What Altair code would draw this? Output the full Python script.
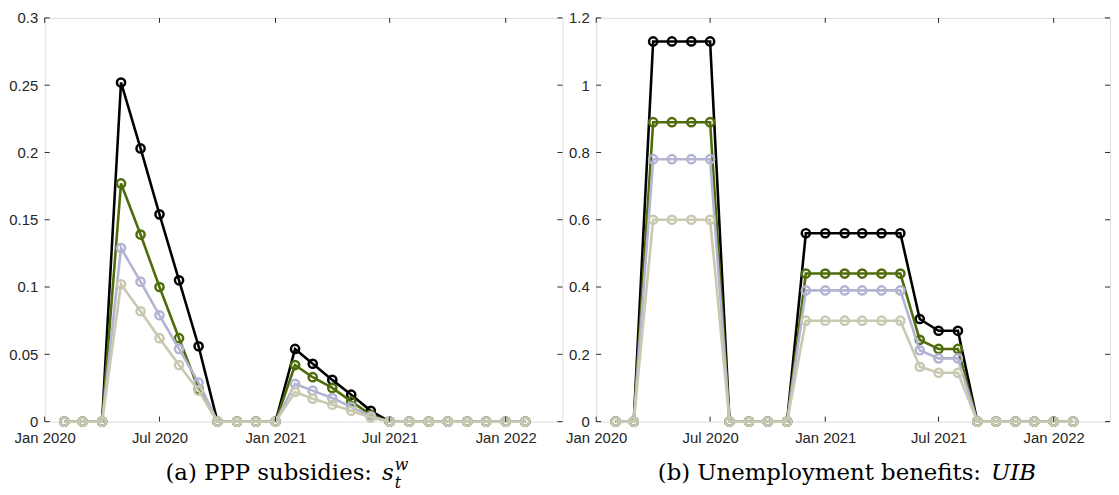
import altair as alt
import pandas as pd

# ---------------- data ----------------
months = [
    "2020-02-01", "2020-03-01", "2020-04-01", "2020-05-01", "2020-06-01",
    "2020-07-01", "2020-08-01", "2020-09-01", "2020-10-01", "2020-11-01",
    "2020-12-01", "2021-01-01", "2021-02-01", "2021-03-01", "2021-04-01",
    "2021-05-01", "2021-06-01", "2021-07-01", "2021-08-01", "2021-09-01",
    "2021-10-01", "2021-11-01", "2021-12-01", "2022-01-01", "2022-02-01",
]
series_names = ["black", "green", "lavender", "tan"]
series_colors = ["#000000", "#4f6c0a", "#b3b3d2", "#c9c9b1"]

ppp_black = [0, 0, 0, 0.252, 0.203, 0.154, 0.105, 0.056, 0, 0, 0, 0,
             0.054, 0.043, 0.031, 0.020, 0.008, 0, 0, 0, 0, 0, 0, 0, 0]
ppp_green = [0, 0, 0, 0.177, 0.139, 0.100, 0.062, 0.024, 0, 0, 0, 0,
             0.042, 0.033, 0.025, 0.015, 0.005, 0, 0, 0, 0, 0, 0, 0, 0]
ppp_lavender = [0, 0, 0, 0.129, 0.104, 0.079, 0.054, 0.029, 0, 0, 0, 0,
                0.028, 0.023, 0.0175, 0.011, 0.004, 0, 0, 0, 0, 0, 0, 0, 0]
ppp_tan = [0, 0, 0, 0.102, 0.082, 0.062, 0.042, 0.023, 0, 0, 0, 0,
           0.022, 0.017, 0.0125, 0.008, 0.003, 0, 0, 0, 0, 0, 0, 0, 0]

uib_black = [0, 0, 1.13, 1.13, 1.13, 1.13, 0, 0, 0, 0, 0.56, 0.56,
             0.56, 0.56, 0.56, 0.56, 0.305, 0.27, 0.27, 0, 0, 0, 0, 0, 0]
uib_green = [0, 0, 0.89, 0.89, 0.89, 0.89, 0, 0, 0, 0, 0.44, 0.44,
             0.44, 0.44, 0.44, 0.44, 0.243, 0.216, 0.216, 0, 0, 0, 0, 0, 0]
uib_lavender = [0, 0, 0.78, 0.78, 0.78, 0.78, 0, 0, 0, 0, 0.39, 0.39,
                0.39, 0.39, 0.39, 0.39, 0.212, 0.188, 0.188, 0, 0, 0, 0, 0, 0]
uib_tan = [0, 0, 0.60, 0.60, 0.60, 0.60, 0, 0, 0, 0, 0.30, 0.30,
           0.30, 0.30, 0.30, 0.30, 0.163, 0.145, 0.145, 0, 0, 0, 0, 0, 0]

x_tick_dates = ["2020-01-01", "2020-07-01", "2021-01-01", "2021-07-01", "2022-01-01"]
ppp_yticks = [0, 0.05, 0.1, 0.15, 0.2, 0.25, 0.3]
uib_yticks = [0, 0.2, 0.4, 0.6, 0.8, 1.0, 1.2]

# ---------------- styling ----------------
H = 407
W_LEFT = 522
W_RIGHT = 518
AXIS_COLOR = "#262626"
LABEL_FONT = "Liberation Sans"
CAPTION_FONT = "DejaVu Serif"
CAP_Y = 465.5          # caption baseline, relative to plot top
TICK_LEN = 5


def to_local(d):
    return d + "T00:00:00"


def long_df(values_by_series):
    rows = []
    for name, vals in zip(series_names, values_by_series):
        for m, v in zip(months, vals):
            rows.append({"date": to_local(m), "value": v, "series": name})
    return pd.DataFrame(rows)


def dt(y, m, d):
    return alt.DateTime(year=y, month=m, date=d, hours=0)


def make_panel(values_by_series, yticks, ymax, width, caption_layers):
    x_enc = alt.X(
        "date:T",
        scale=alt.Scale(domain=[dt(2020, 1, 1), dt(2022, 4, 1)]),
        axis=alt.Axis(
            values=[dt(int(s[:4]), int(s[5:7]), 1) for s in x_tick_dates],
            format="%b %Y", ticks=False, tickSize=0, domain=False, grid=False,
            labelPadding=9, labelFont=LABEL_FONT, labelFontSize=15,
            labelColor=AXIS_COLOR, labelFlush=False, labelOverlap=False,
            title=None,
        ),
    )
    y_enc = alt.Y(
        "value:Q",
        scale=alt.Scale(domain=[0, ymax], nice=False, zero=True),
        axis=alt.Axis(
            values=yticks, format="~g", ticks=False, tickSize=0, domain=False,
            grid=False, labelPadding=7, labelFont=LABEL_FONT, labelFontSize=15,
            labelColor=AXIS_COLOR, labelOverlap=False, title=None,
        ),
    )

    df = long_df(values_by_series)
    layers = []
    for name, color in zip(series_names, series_colors):
        base = alt.Chart(df).transform_filter(alt.datum.series == name)
        layers.append(base.mark_line(color=color, strokeWidth=2.6).encode(x=x_enc, y=y_enc))
        layers.append(
            base.mark_point(shape="circle", filled=False, size=68, color=color,
                            strokeWidth=2.5, opacity=1).encode(x=x_enc, y=y_enc)
        )

    # inward axis ticks on all four sides (MATLAB box style)
    xt = pd.DataFrame({"date": [to_local(d) for d in x_tick_dates]})
    yt = pd.DataFrame({"value": yticks})
    rule = dict(color=AXIS_COLOR, strokeWidth=1)
    layers.append(alt.Chart(xt).mark_rule(**rule).encode(x=x_enc, y=alt.value(0), y2=alt.value(TICK_LEN)))
    layers.append(alt.Chart(xt).mark_rule(**rule).encode(x=x_enc, y=alt.value(H), y2=alt.value(H - TICK_LEN)))
    layers.append(alt.Chart(yt).mark_rule(**rule).encode(y=y_enc, x=alt.value(0), x2=alt.value(TICK_LEN)))
    layers.append(alt.Chart(yt).mark_rule(**rule).encode(y=y_enc, x=alt.value(width - TICK_LEN), x2=alt.value(width)))

    layers.extend(caption_layers)
    return alt.layer(*layers).properties(width=width, height=H)


def caption_text(text, x, y, align, size=23, italic=False):
    return alt.Chart(pd.DataFrame({"t": [text]})).mark_text(
        font=CAPTION_FONT, fontSize=size, fontStyle="italic" if italic else "normal",
        align=align, baseline="alphabetic", color="#000000",
    ).encode(text="t:N", x=alt.value(x), y=alt.value(y))


left_caption = [
    caption_text("(a) PPP subsidies:", 330, CAP_Y, "right"),
    caption_text("s", 340, CAP_Y, "left", italic=True),
    caption_text("w", 353, CAP_Y - 10, "left", size=16, italic=True),
    caption_text("t", 353, CAP_Y + 8, "left", size=16, italic=True),
]
right_caption = [
    caption_text("(b) Unemployment benefits:", 388, CAP_Y, "right"),
    caption_text("UIB", 398, CAP_Y, "left", italic=True),
]

left = make_panel([ppp_black, ppp_green, ppp_lavender, ppp_tan],
                  ppp_yticks, 0.3, W_LEFT, left_caption)
right = make_panel([uib_black, uib_green, uib_lavender, uib_tan],
                   uib_yticks, 1.2, W_RIGHT, right_caption)

chart = alt.hconcat(left, right, spacing=34, bounds="flush").properties(
    padding={"left": 0, "top": 0, "right": 0, "bottom": 0}
).configure_view(stroke=AXIS_COLOR, strokeWidth=1).configure(background="white")

chart.save("out.html", embed_options={"renderer": "svg", "actions": False})
